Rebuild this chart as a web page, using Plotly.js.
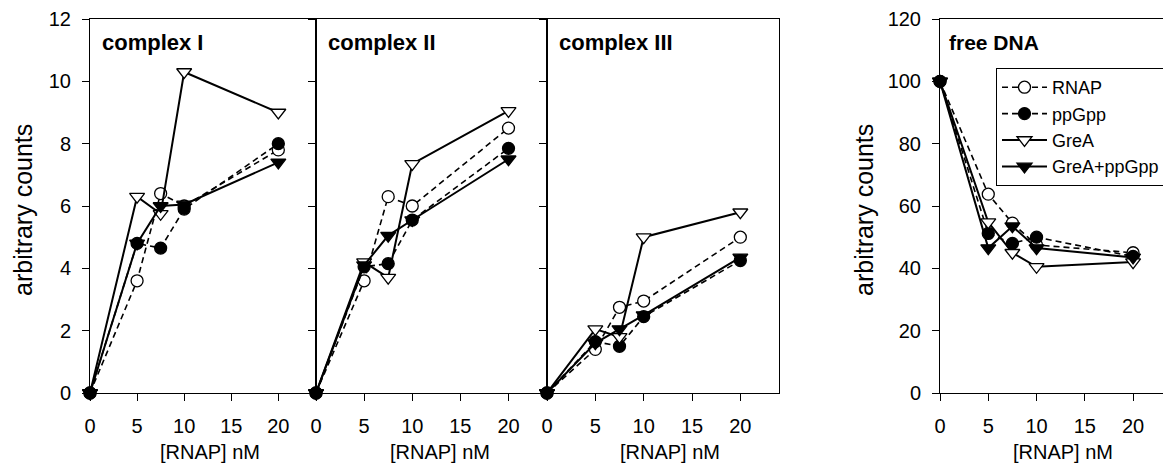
<!DOCTYPE html>
<html>
<head>
<meta charset="utf-8">
<script src="https://cdn.plot.ly/plotly-3.0.1.min.js"></script>
<style>html,body{margin:0;padding:0;background:#fff;}#chart{width:1163px;height:464px;}</style>
</head>
<body>
<div id="chart"></div>
<script>
// ---- data ----
const conc = [0, 5, 7.5, 10, 20];
const seriesNames = ["RNAP", "ppGpp", "GreA", "GreA+ppGpp"];
const panelTitles = ["complex I", "complex II", "complex III", "free DNA"];

const complexI_RNAP   = [0, 3.6, 6.4, 6.0, 7.8];
const complexI_ppGpp  = [0, 4.8, 4.65, 5.9, 8.0];
const complexI_GreA   = [0, 6.3, 5.75, 10.3, 9.0];
const complexI_GreApp = [0, 4.8, 6.0, 6.05, 7.4];

const complexII_RNAP   = [0, 3.6, 6.3, 6.0, 8.5];
const complexII_ppGpp  = [0, 4.05, 4.15, 5.55, 7.85];
const complexII_GreA   = [0, 4.2, 3.7, 7.35, 9.05];
const complexII_GreApp = [0, 4.1, 5.05, 5.55, 7.5];

const complexIII_RNAP   = [0, 1.4, 2.75, 2.95, 5.0];
const complexIII_ppGpp  = [0, 1.65, 1.5, 2.45, 4.25];
const complexIII_GreA   = [0, 2.05, 1.8, 5.0, 5.8];
const complexIII_GreApp = [0, 1.6, 2.05, 2.5, 4.35];

const freeDNA_RNAP   = [100, 63.8, 54.5, 47.5, 45.0];
const freeDNA_ppGpp  = [100, 51.2, 48.0, 50.0, 43.8];
const freeDNA_GreA   = [100, 54.8, 45.0, 40.5, 42.0];
const freeDNA_GreApp = [100, 46.5, 53.5, 46.5, 43.5];

const xTickVals = [0, 5, 10, 15, 20];
const yTickValsComplex = [0, 2, 4, 6, 8, 10, 12];
const yTickValsFree = [0, 20, 40, 60, 80, 100, 120];
const xTitle = "[RNAP] nM";
const yTitle = "arbitrary counts";

// ---- styles ----
const W = 1163, H = 464;
const FONT = "Arial, 'Liberation Sans', sans-serif";
const styles = [
  {dash: "6px,4px", width: 1.6, symbol: "circle", color: "#fff"},
  {dash: "6px,4px", width: 1.6, symbol: "circle", color: "#000"},
  {dash: "solid", width: 2, symbol: "triangle-down", color: "#fff"},
  {dash: "solid", width: 2, symbol: "triangle-down", color: "#000"}
];
const panels = [
  [complexI_RNAP, complexI_ppGpp, complexI_GreA, complexI_GreApp],
  [complexII_RNAP, complexII_ppGpp, complexII_GreA, complexII_GreApp],
  [complexIII_RNAP, complexIII_ppGpp, complexIII_GreA, complexIII_GreApp],
  [freeDNA_RNAP, freeDNA_ppGpp, freeDNA_GreA, freeDNA_GreApp]
];

const traces = [];
panels.forEach((p, pi) => {
  p.forEach((vals, si) => {
    const s = styles[si];
    traces.push({
      type: "scatter", mode: "lines+markers",
      x: conc, y: vals,
      name: seriesNames[si],
      showlegend: pi === 3,
      legendgroup: seriesNames[si],
      xaxis: pi === 0 ? "x" : "x" + (pi + 1),
      yaxis: pi === 0 ? "y" : "y" + (pi + 1),
      cliponaxis: false,
      line: {color: "#000", width: s.width, dash: s.dash},
      marker: {symbol: s.symbol, size: s.symbol === "circle" ? 12 : 13, color: s.color,
               line: {color: "#000", width: 1.3}}
    });
  });
});

// pixel geometry
const px = v => v / W;
const py = v => 1 - v / H;
const xDomains = [[90, 316], [316, 547], [547, 779], [940, 1163]];
const xRanges = [[0, 24], [0, 24], [0, 24], [0, 23.1]];
const yDom = [py(393), py(19)];

const layout = {
  width: W, height: H,
  margin: {l: 0, r: 0, t: 0, b: 0, autoexpand: false},
  paper_bgcolor: "#fff", plot_bgcolor: "rgba(0,0,0,0)",
  font: {family: FONT, color: "#000", size: 20},
  showlegend: true,
  legend: {
    x: px(996), y: py(68), xanchor: "left", yanchor: "top",
    bordercolor: "#000", borderwidth: 1, bgcolor: "#fff",
    font: {family: FONT, size: 18, color: "#000"},
    itemwidth: 45, tracegroupgap: 0
  },
  annotations: [],
  hovermode: false
};

xDomains.forEach((d, i) => {
  const k = i === 0 ? "" : String(i + 1);
  layout["xaxis" + k] = {
    domain: [px(d[0]), px(d[1])], range: xRanges[i], anchor: "y" + k,
    tickvals: xTickVals, ticks: "outside", ticklen: 7, tickwidth: 1, tickcolor: "#000",
    ticklabelstandoff: 8,
    showline: true, linecolor: "#000", linewidth: 1, mirror: true,
    showgrid: false, zeroline: false, fixedrange: true,
    tickfont: {family: FONT, size: 20}
  };
  layout["yaxis" + k] = {
    domain: yDom, range: i === 3 ? [0, 120] : [0, 12], anchor: "x" + k,
    tickvals: i === 3 ? yTickValsFree : yTickValsComplex,
    showticklabels: i === 0 || i === 3,
    ticks: "outside", ticklen: 7, tickwidth: 1, tickcolor: "#000",
    ticklabelstandoff: 7,
    showline: true, linecolor: "#000", linewidth: 1, mirror: i === 3 ? false : true,
    showgrid: false, zeroline: false, fixedrange: true,
    tickfont: {family: FONT, size: 20}
  };
});

// panel titles
const titlePos = [[100, 42, 22], [326, 43, 22], [557, 43, 22], [947, 42, 21]];
panelTitles.forEach((t, i) => {
  layout.annotations.push({
    text: "<b>" + t + "</b>", xref: "paper", yref: "paper",
    x: px(titlePos[i][0]), y: py(titlePos[i][1]), xanchor: "left", yanchor: "middle",
    showarrow: false, font: {family: FONT, size: titlePos[i][2], color: "#000"}
  });
});
// x titles
[210, 440, 670, 1063].forEach(cx => {
  layout.annotations.push({
    text: xTitle, xref: "paper", yref: "paper", x: px(cx), y: py(452),
    xanchor: "center", yanchor: "middle", showarrow: false,
    font: {family: FONT, size: 20, color: "#000"}
  });
});
// y titles
[23, 864].forEach(cx => {
  layout.annotations.push({
    text: yTitle, xref: "paper", yref: "paper", x: px(cx), y: py(210),
    xanchor: "center", yanchor: "middle", textangle: -90, showarrow: false,
    font: {family: FONT, size: 25, color: "#000"}
  });
});

Plotly.newPlot("chart", traces, layout, {staticPlot: true, displayModeBar: false});
</script>
</body>
</html>
